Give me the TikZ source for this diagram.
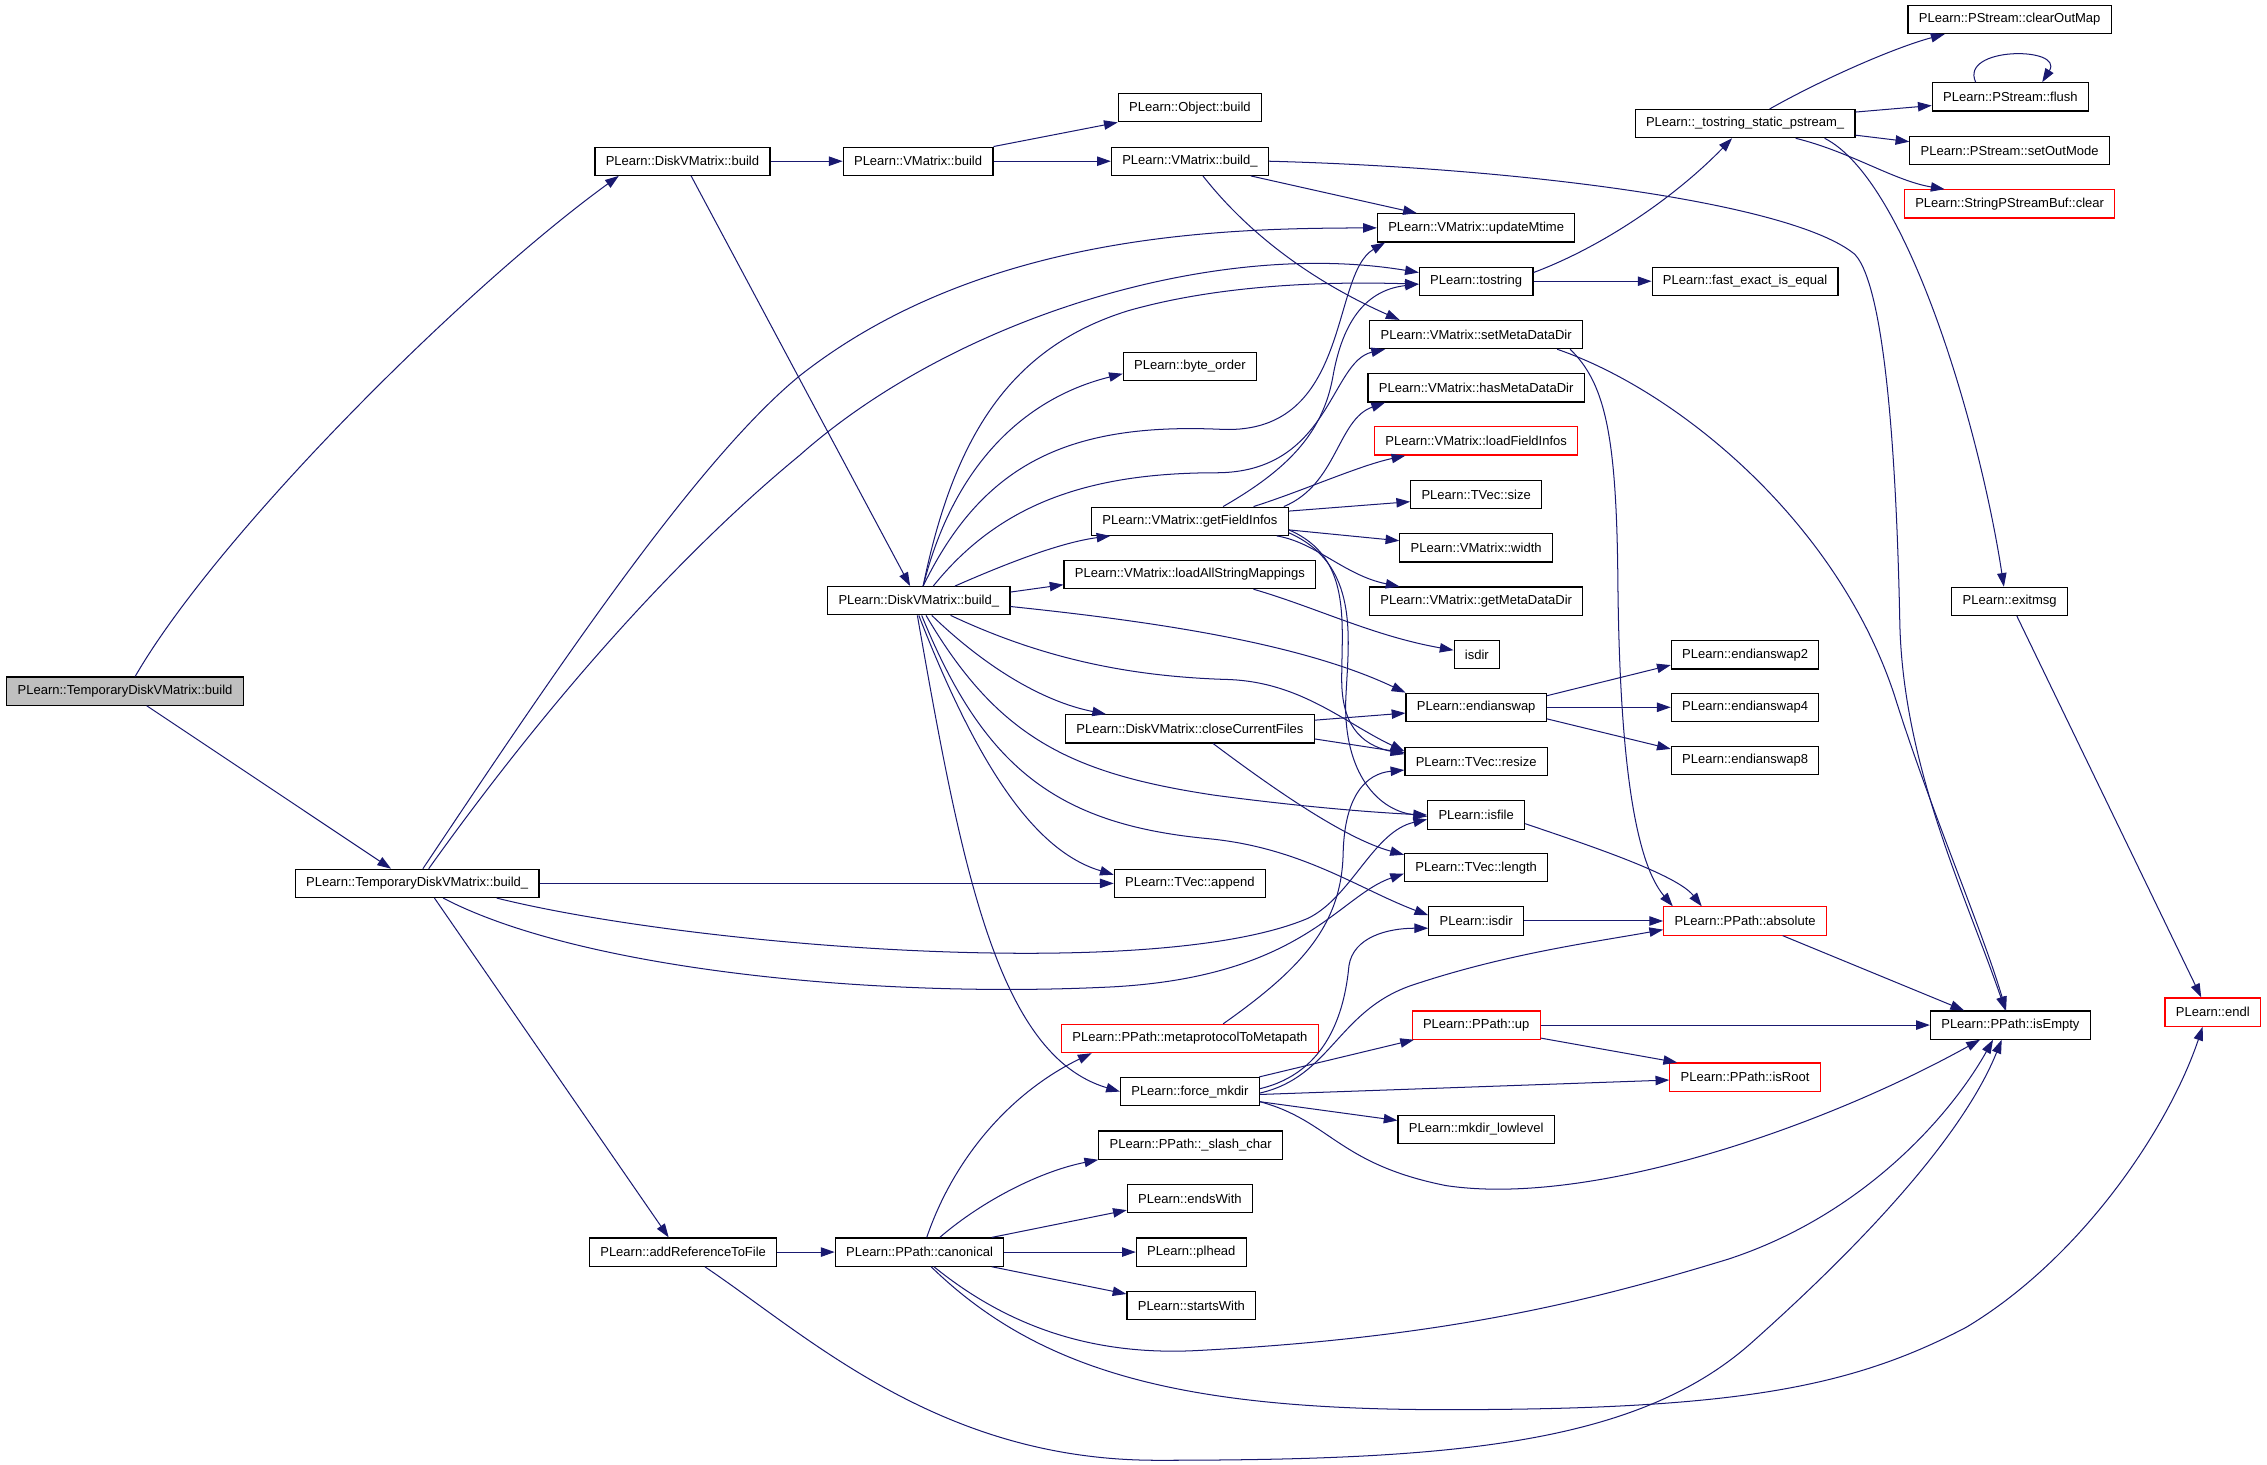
\documentclass[tikz,border=0pt]{standalone}
\usepackage{fontspec}
\setmainfont{Liberation Sans}
\usetikzlibrary{arrows.meta}
\definecolor{callblue}{RGB}{25,25,112}
\definecolor{rootgray}{RGB}{191,191,191}
\tikzset{
    fn/.style={
                draw=black,
                line width=0.8pt,
                fill=white,
                minimum height=19.5pt,
                inner xsep=7.5pt,
                inner ysep=0pt,
                font=\fontsize{9}{10}\selectfont
            },
        fnmissing/.style={
                fn,
                draw=red
            },
        fnroot/.style={
                fn,
                fill=rootgray
            },
        call/.style={
                draw=callblue,
                line width=0.7pt,
                -{Triangle[length=9.5pt,width=6.5pt]}
            },
}

\begin{document}
\begin{tikzpicture}[x=1pt,y=-1pt]
\useasboundingbox (0,0) rectangle (1568,1012.6);
% Functions
\node[fnroot] (tdvmBuild) at (86.5,478) {PLearn::TemporaryDiskVMatrix::build};
\node[fn] (tdvmBuildU) at (288.5,611) {PLearn::TemporaryDiskVMatrix::build\_};
\node[fn] (dvmBuild) at (472,111.5) {PLearn::DiskVMatrix::build};
\node[fn] (addRef) at (472.5,866) {PLearn::addReferenceToFile};
\node[fn] (vmBuild) at (635,111.5) {PLearn::VMatrix::build};
\node[fn] (dvmBuildU) at (635.5,415.5) {PLearn::DiskVMatrix::build\_};
\node[fn] (canonical) at (636,866) {PLearn::PPath::canonical};
\node[fn] (objBuild) at (823,74.5) {PLearn::Object::build};
\node[fn] (vmBuildU) at (823,111.5) {PLearn::VMatrix::build\_};
\node[fn] (byteOrder) at (823,253.5) {PLearn::byte\_order};
\node[fn] (getFieldInfos) at (823,360.5) {PLearn::VMatrix::getFieldInfos};
\node[fn] (loadAllStr) at (823,397.4) {PLearn::VMatrix::loadAllStringMappings};
\node[fn] (closeFiles) at (823,504.1) {PLearn::DiskVMatrix::closeCurrentFiles};
\node[fn] (tvecAppend) at (823,611) {PLearn::TVec::append};
\node[fnmissing] (metaproto) at (823,718.3) {PLearn::PPath::metaprotocolToMetapath};
\node[fn] (forceMkdir) at (823,755) {PLearn::force\_mkdir};
\node[fn] (slashChar) at (823.5,792) {PLearn::PPath::\_slash\_char};
\node[fn] (endsWith) at (823,829) {PLearn::endsWith};
\node[fn] (plhead) at (824,866) {PLearn::plhead};
\node[fn] (startsWith) at (824,903) {PLearn::startsWith};
\node[fn] (updateMtime) at (1021,157.6) {PLearn::VMatrix::updateMtime};
\node[fn] (tostring) at (1021,194.5) {PLearn::tostring};
\node[fn] (setMeta) at (1021,231.4) {PLearn::VMatrix::setMetaDataDir};
\node[fn] (hasMeta) at (1021,268.3) {PLearn::VMatrix::hasMetaDataDir};
\node[fnmissing] (loadFieldInfos) at (1021,305) {PLearn::VMatrix::loadFieldInfos};
\node[fn] (tvecSize) at (1021,342) {PLearn::TVec::size};
\node[fn] (vmWidth) at (1021,379) {PLearn::VMatrix::width};
\node[fn] (getMeta) at (1021,415.8) {PLearn::VMatrix::getMetaDataDir};
\node[fn] (isdirA) at (1021.5,452.7) {isdir};
\node[fn] (endianswap) at (1021,489.2) {PLearn::endianswap};
\node[fn] (tvecResize) at (1021,526.6) {PLearn::TVec::resize};
\node[fn] (isfile) at (1021,563.7) {PLearn::isfile};
\node[fn] (tvecLength) at (1021,600.2) {PLearn::TVec::length};
\node[fn] (isdirB) at (1021,637) {PLearn::isdir};
\node[fnmissing] (ppathUp) at (1021,709) {PLearn::PPath::up};
\node[fn] (mkdirLow) at (1021,781) {PLearn::mkdir\_lowlevel};
\node[fn] (tostringStatic) at (1207,85.5) {PLearn::\_tostring\_static\_pstream\_};
\node[fn] (fastExact) at (1207,194.5) {PLearn::fast\_exact\_is\_equal};
\node[fn] (endianswapTwo) at (1207,453) {PLearn::endianswap2};
\node[fn] (endianswapFour) at (1207,489.2) {PLearn::endianswap4};
\node[fn] (endianswapEight) at (1207,526) {PLearn::endianswap8};
\node[fnmissing] (absolute) at (1207,637) {PLearn::PPath::absolute};
\node[fnmissing] (isRoot) at (1207,745) {PLearn::PPath::isRoot};
\node[fn] (clearOutMap) at (1390,13.5) {PLearn::PStream::clearOutMap};
\node[fn] (flush) at (1390.5,67) {PLearn::PStream::flush};
\node[fn] (setOutMode) at (1390,104) {PLearn::PStream::setOutMode};
\node[fnmissing] (bufClear) at (1390,141) {PLearn::StringPStreamBuf::clear};
\node[fn] (exitmsg) at (1390,416) {PLearn::exitmsg};
\node[fn] (isEmpty) at (1390.5,709) {PLearn::PPath::isEmpty};
\node[fnmissing] (endl) at (1530.5,700) {PLearn::endl};
% Calls
\draw[call] ([xshift=7pt]tdvmBuild.north) .. controls (150,370) and (320,200) .. ([xshift=-44pt]dvmBuild.south);
\draw[call] ([xshift=15pt]tdvmBuild.south) -- ([xshift=-18pt]tdvmBuildU.north);
\draw[call] (dvmBuild) -- (vmBuild);
\draw[call] ([xshift=6pt]dvmBuild.south) -- ([xshift=-6pt]dvmBuildU.north);
\draw[call] (vmBuild.north east) -- (objBuild.south west);
\draw[call] (vmBuild) -- (vmBuildU);
\draw[call] ([xshift=42pt]vmBuildU.south) -- ([xshift=-41pt]updateMtime.north);
\draw[call] ([xshift=9pt]vmBuildU.south) .. controls (870,170) and (920,200) .. ([xshift=-53pt]setMeta.north);
\draw[call] (vmBuildU.east) .. controls (1050,116) and (1240,140) .. (1283,176) .. controls (1305,200) and (1312,330) .. (1314,430) .. controls (1316,530) and (1360,620) .. ([xshift=-3.5pt]isEmpty.north);
\draw[call] ([xshift=4pt]tdvmBuildU.north) .. controls (380,470) and (480,320) .. (553,260) .. controls (680,160) and (850,158) .. (updateMtime.west);
\draw[call] ([xshift=8pt]tdvmBuildU.north) .. controls (390,470) and (480,375) .. (553,315) .. controls (660,220) and (840,165) .. ([yshift=6pt]tostring.west);
\draw[call] (tdvmBuildU) -- (tvecAppend);
\draw[call] ([xshift=55pt]tdvmBuildU.south) .. controls (480,655) and (800,680) .. (905,635) .. controls (935,620) and (950,575) .. ([yshift=-3pt]isfile.west);
\draw[call] ([xshift=18pt]tdvmBuildU.south) .. controls (400,670) and (600,690) .. (760,683) .. controls (900,678) and (925,620) .. ([yshift=-4pt]tvecLength.west);
\draw[call] ([xshift=12pt]tdvmBuildU.south) -- ([xshift=-10pt]addRef.north);
\draw[call] ([xshift=3pt]dvmBuildU.north) .. controls (680,320) and (740,292) .. (846,297) .. controls (935,300) and (920,190) .. ([xshift=-63pt]updateMtime.south);
\draw[call] ([xshift=3pt]dvmBuildU.north) .. controls (660,300) and (700,240) .. (780,215) .. controls (850,195) and (930,195) .. ([yshift=-2pt]tostring.west);
\draw[call] ([xshift=10pt]dvmBuildU.north) .. controls (690,350) and (750,327) .. (841,327) .. controls (920,327) and (920,250) .. ([xshift=-63pt]setMeta.south);
\draw[call] ([xshift=3pt]dvmBuildU.north) .. controls (660,320) and (710,275) .. ([yshift=-5pt]byteOrder.west);
\draw[call] ([xshift=25pt]dvmBuildU.north) .. controls (700,388) and (735,375) .. ([xshift=-55pt]getFieldInfos.south);
\draw[call] ([yshift=6pt]dvmBuildU.east) -- ([yshift=-7pt]loadAllStr.west);
\draw[call] ([yshift=-4pt]dvmBuildU.east) .. controls (800,430) and (900,445) .. (endianswap.north west);
\draw[call] ([xshift=22pt]dvmBuildU.south) .. controls (720,455) and (780,468) .. (850,470) .. controls (900,472) and (930,500) .. ([yshift=7pt]tvecResize.west);
\draw[call] ([xshift=9pt]dvmBuildU.south) .. controls (680,460) and (720,485) .. ([xshift=-58pt]closeFiles.north);
\draw[call] ([xshift=5pt]dvmBuildU.south) .. controls (690,510) and (740,535) .. (840,550) .. controls (900,558) and (950,562) .. (isfile.west);
\draw[call] ([xshift=2pt]dvmBuildU.south) .. controls (680,530) and (730,570) .. (835,580) .. controls (900,586) and (940,615) .. ([yshift=4pt]isdirB.west);
\draw[call] (dvmBuildU.south) .. controls (680,540) and (720,590) .. ([yshift=6pt]tvecAppend.west);
\draw[call] ([xshift=-1pt]dvmBuildU.south) .. controls (665,600) and (690,730) .. (forceMkdir.west);
\draw[call] ([xshift=23pt]getFieldInfos.north) .. controls (890,325) and (915,300) .. (922,260) .. controls (930,215) and (950,200) .. ([yshift=-2pt]tostring.west);
\draw[call] ([xshift=65pt]getFieldInfos.north) .. controls (925,335) and (925,290) .. ([xshift=-63pt]hasMeta.south);
\draw[call] ([xshift=44pt]getFieldInfos.north) .. controls (900,340) and (940,322) .. ([xshift=-49pt]loadFieldInfos.south);
\draw[call] ([yshift=7pt]getFieldInfos.east) -- ([yshift=-5pt]tvecSize.west);
\draw[call] ([yshift=-6pt]getFieldInfos.east) -- ([yshift=5pt]vmWidth.west);
\draw[call] ([xshift=60pt]getFieldInfos.south) .. controls (910,375) and (930,398) .. ([xshift=-53pt]getMeta.north);
\draw[call] ([yshift=-6pt]getFieldInfos.east) .. controls (935,385) and (928,430) .. (928,470) .. controls (928,500) and (940,515) .. ([yshift=5pt]tvecResize.west);
\draw[call] ([yshift=-8pt]getFieldInfos.east) .. controls (940,390) and (933,440) .. (931,480) .. controls (928,530) and (950,560) .. ([yshift=-1pt]isfile.west);
\draw[call] ([xshift=44pt]loadAllStr.south) .. controls (910,420) and (950,440) .. ([yshift=3pt]isdirA.west);
\draw[call] ([yshift=6pt]closeFiles.east) -- ([yshift=-4pt]endianswap.west);
\draw[call] ([yshift=-7pt]closeFiles.east) -- ([yshift=6pt]tvecResize.west);
\draw[call] ([xshift=16pt]closeFiles.south) .. controls (880,545) and (930,580) .. ([yshift=9pt]tvecLength.west);
\draw[call] ([yshift=6pt]tostring.east) .. controls (1110,170) and (1160,135) .. ([xshift=-9pt]tostringStatic.south);
\draw[call] (tostring) -- (fastExact);
\draw[call] ([xshift=17pt]tostringStatic.north) .. controls (1260,55) and (1310,33) .. ([xshift=-45pt]clearOutMap.south);
\draw[call] ([yshift=8pt]tostringStatic.east) -- ([yshift=-6pt]flush.west);
\draw[call] ([yshift=-8pt]tostringStatic.east) -- ([yshift=6pt]setOutMode.west);
\draw[call] ([xshift=35pt]tostringStatic.south) .. controls (1280,105) and (1310,125) .. ([xshift=-45pt]bufClear.north);
\draw[call] ([xshift=55pt]tostringStatic.south) .. controls (1320,125) and (1370,300) .. ([xshift=-4pt]exitmsg.north);
\draw[call] ([xshift=-24pt]flush.north) .. controls (1355,32) and (1428,32) .. ([xshift=22pt]flush.north);
\draw[call] ([xshift=5pt]exitmsg.south) -- ([xshift=-8pt]endl.north);
\draw[call] ([xshift=65pt]setMeta.south) .. controls (1110,265) and (1118,300) .. (1119,400) .. controls (1120,520) and (1130,595) .. ([xshift=-50pt]absolute.north);
\draw[call] ([xshift=56pt]setMeta.south) .. controls (1160,270) and (1270,360) .. (1310,480) .. controls (1335,560) and (1370,640) .. ([xshift=-3pt]isEmpty.north);
\draw[call] ([yshift=8pt]endianswap.east) -- ([yshift=-7pt]endianswapTwo.west);
\draw[call] (endianswap) -- (endianswapFour);
\draw[call] ([yshift=-8pt]endianswap.east) -- ([yshift=8pt]endianswapEight.west);
\draw[call] ([yshift=-6pt]isfile.east) .. controls (1100,585) and (1160,605) .. ([xshift=-30pt]absolute.north);
\draw[call] (isdirB) -- (absolute);
\draw[call] ([xshift=26pt]absolute.south) -- ([xshift=-32pt]isEmpty.north);
\draw[call] ([xshift=23pt]metaproto.north) .. controls (900,670) and (928,640) .. (929,590) .. controls (930,550) and (945,535) .. ([yshift=-6pt]tvecResize.west);
\draw[call] ([xshift=48pt]forceMkdir.north) -- ([xshift=-43pt]ppathUp.south);
\draw[call] ([yshift=-2pt]forceMkdir.east) -- ([yshift=-2pt]isRoot.west);
\draw[call] ([yshift=-7pt]forceMkdir.east) -- ([yshift=6pt]mkdirLow.west);
\draw[call] ([yshift=-7pt]forceMkdir.east) .. controls (920,775) and (925,805) .. (1000,820) .. controls (1100,835) and (1260,780) .. ([xshift=-21pt]isEmpty.south);
\draw[call] ([yshift=-1pt]forceMkdir.east) .. controls (920,745) and (925,700) .. (975,682) .. controls (1040,660) and (1100,652) .. ([yshift=-6pt]absolute.west);
\draw[call] ([yshift=2pt]forceMkdir.east) .. controls (918,742) and (930,700) .. (933,668) .. controls (936,648) and (960,642) .. ([yshift=-5pt]isdirB.west);
\draw[call] (ppathUp) -- (isEmpty);
\draw[call] ([yshift=-9pt]ppathUp.east) -- ([xshift=-47pt]isRoot.north);
\draw[call] ([xshift=5pt]canonical.north) .. controls (660,800) and (700,755) .. ([xshift=-68pt]metaproto.south);
\draw[call] ([xshift=14pt]canonical.north) .. controls (680,830) and (720,810) .. (slashChar.south west);
\draw[call] ([xshift=50pt]canonical.north) -- ([yshift=-8pt]endsWith.west);
\draw[call] (canonical) -- (plhead);
\draw[call] ([xshift=50pt]canonical.south) -- ([yshift=8pt]startsWith.west);
\draw[call] ([xshift=10pt]canonical.south) .. controls (700,920) and (760,938) .. (830,934) .. controls (1000,925) and (1100,900) .. (1195,871) .. controls (1290,840) and (1350,770) .. ([xshift=-12pt]isEmpty.south);
\draw[call] ([xshift=8pt]canonical.south) .. controls (720,950) and (820,975) .. (1000,975) .. controls (1200,975) and (1280,960) .. (1360,918) .. controls (1440,870) and (1500,780) .. ([xshift=-7pt]endl.south);
\draw[call] (addRef) -- (canonical);
\draw[call] ([xshift=15pt]addRef.south) .. controls (560,925) and (650,1010) .. (800,1010) .. controls (1000,1010) and (1130,1000) .. (1210,930) .. controls (1300,850) and (1360,780) .. ([xshift=-6pt]isEmpty.south);
\end{tikzpicture}
\end{document}
